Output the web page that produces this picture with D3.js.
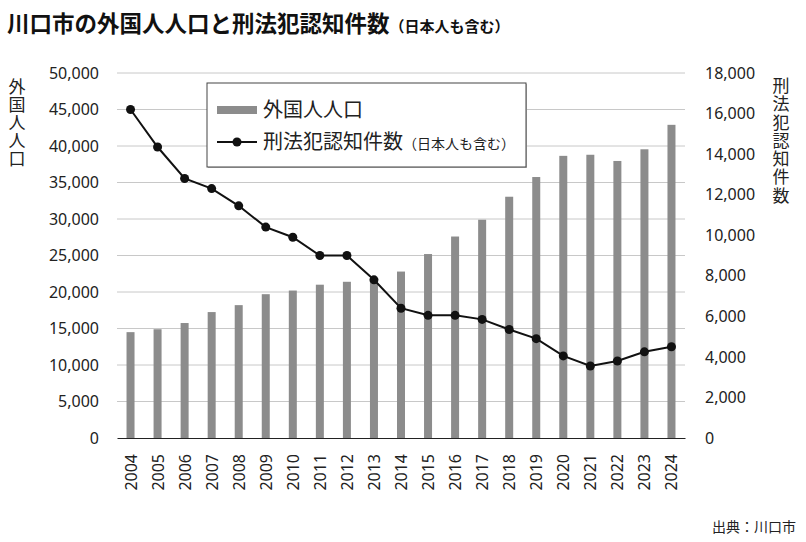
<!DOCTYPE html>
<html>
<head>
<meta charset="utf-8">
<script src="https://cdn.jsdelivr.net/npm/d3@7"></script>
<style>
  body { margin: 0; background: #fff; }
  text { font-family: "Noto Sans CJK JP", "Noto Sans", sans-serif; fill: #222; }
  .num { font-family: "Noto Sans", "Open Sans", sans-serif; }
</style>
</head>
<body>
<div id="chart"></div>
<script>
const years = ["2004","2005","2006","2007","2008","2009","2010","2011","2012","2013","2014",
               "2015","2016","2017","2018","2019","2020","2021","2022","2023","2024"];
const foreignPop = [14500, 14900, 15750, 17250, 18200, 19700, 20200, 21000, 21400, 21600, 22800,
                    25200, 27600, 29900, 33050, 35750, 38650, 38800, 37950, 39550, 42900];
const crimes = [16200, 14350, 12800, 12300, 11450, 10400, 9900, 9000, 9000, 7800, 6400,
                6050, 6050, 5850, 5350, 4900, 4050, 3550, 3800, 4250, 4500];
const leftTicks = [0, 5000, 10000, 15000, 20000, 25000, 30000, 35000, 40000, 45000, 50000];
const rightTicks = [0, 2000, 4000, 6000, 8000, 10000, 12000, 14000, 16000, 18000];

const width = 806, height = 542;
const plot = {left: 117, right: 685, top: 73, bottom: 438};

const svg = d3.select("#chart").append("svg")
    .attr("width", width)
    .attr("height", height);

const x = d3.scaleBand().domain(years).range([plot.left, plot.right]);
const yL = d3.scaleLinear().domain([0, 50000]).range([plot.bottom, plot.top]);
const yR = d3.scaleLinear().domain([0, 18000]).range([plot.bottom, plot.top]);
const fmt = d3.format(",");

// title
const title = svg.append("text").attr("x", 7).attr("y", 32)
    .style("font-weight", "bold").style("font-size", "22.5px").style("fill", "#111");
title.append("tspan").text("川口市の外国人人口と刑法犯認知件数");
title.append("tspan").style("font-size", "15px").text("（日本人も含む）");

// gridlines
svg.append("g").selectAll("line")
    .data(leftTicks.filter(d => d > 0))
    .enter().append("line")
    .attr("x1", plot.left).attr("x2", plot.right)
    .attr("y1", d => yL(d)).attr("y2", d => yL(d))
    .attr("stroke", "#c8c8c8").attr("stroke-width", 1);

// left axis
const axL = svg.append("g").attr("transform", `translate(${plot.left},0)`)
    .call(d3.axisLeft(yL).tickValues(leftTicks).tickFormat(fmt).tickSize(0).tickPadding(18));
axL.select(".domain").remove();
axL.selectAll("text").attr("class", "num").style("font-size", "16px").style("fill", "#222");

// right axis
const axR = svg.append("g").attr("transform", `translate(${plot.right},0)`)
    .call(d3.axisRight(yR).tickValues(rightTicks).tickFormat(fmt).tickSize(0).tickPadding(20));
axR.select(".domain").remove();
axR.selectAll("text").attr("class", "num").style("font-size", "16px").style("fill", "#222");

// bars
const barW = 8;
svg.append("g").selectAll("rect")
    .data(foreignPop)
    .enter().append("rect")
    .attr("x", (d, i) => x(years[i]) + x.bandwidth() / 2 - barW / 2)
    .attr("width", barW)
    .attr("y", d => yL(d))
    .attr("height", d => plot.bottom - yL(d))
    .attr("fill", "#8c8c8c");

// bottom axis
const axB = svg.append("g").attr("transform", `translate(0,${plot.bottom})`)
    .call(d3.axisBottom(x).tickSize(0).tickPadding(0));
axB.select(".domain").attr("stroke", "#222").attr("stroke-width", 1.2);
axB.selectAll("text")
    .attr("class", "num")
    .style("font-size", "16px").style("fill", "#222")
    .attr("text-anchor", "end")
    .attr("dominant-baseline", "central")
    .attr("transform", "translate(0,16) rotate(-90)")
    .attr("x", 0).attr("y", 0).attr("dy", null);

// line
const line = d3.line()
    .x((d, i) => x(years[i]) + x.bandwidth() / 2)
    .y(d => yR(d));
svg.append("path").datum(crimes)
    .attr("d", line)
    .attr("fill", "none").attr("stroke", "#111").attr("stroke-width", 2);
svg.append("g").selectAll("circle")
    .data(crimes)
    .enter().append("circle")
    .attr("cx", (d, i) => x(years[i]) + x.bandwidth() / 2)
    .attr("cy", d => yR(d))
    .attr("r", 4.5)
    .attr("fill", "#111");

// axis titles (vertical)
svg.append("text").attr("x", 17).attr("y", 78)
    .style("writing-mode", "vertical-rl").style("font-size", "17px")
    .style("letter-spacing", "1px").text("外国人人口");
svg.append("text").attr("x", 781).attr("y", 77)
    .style("writing-mode", "vertical-rl").style("font-size", "17px")
    .style("letter-spacing", "1.3px").text("刑法犯認知件数");

// legend
const lg = svg.append("g").attr("transform", "translate(207,83)");
lg.append("rect").attr("x", 1).attr("y", 1).attr("width", 319).attr("height", 84)
    .attr("fill", "#bbb");
lg.append("rect").attr("width", 319).attr("height", 84)
    .attr("fill", "#fff").attr("stroke", "#444").attr("stroke-width", 1);
lg.append("rect").attr("x", 10).attr("y", 23).attr("width", 40).attr("height", 8).attr("fill", "#8c8c8c");
lg.append("text").attr("x", 56).attr("y", 34).style("font-size", "20px").text("外国人人口");
lg.append("line").attr("x1", 10).attr("x2", 50).attr("y1", 59).attr("y2", 59)
    .attr("stroke", "#111").attr("stroke-width", 2);
lg.append("circle").attr("cx", 30).attr("cy", 59).attr("r", 4.5).attr("fill", "#111");
const lt = lg.append("text").attr("x", 56).attr("y", 66).style("font-size", "20px");
lt.append("tspan").text("刑法犯認知件数");
lt.append("tspan").style("font-size", "14px").text("（日本人も含む）");

// source
svg.append("text").attr("x", 796).attr("y", 532).attr("text-anchor", "end")
    .style("font-size", "14px").text("出典：川口市");
</script>
</body>
</html>
